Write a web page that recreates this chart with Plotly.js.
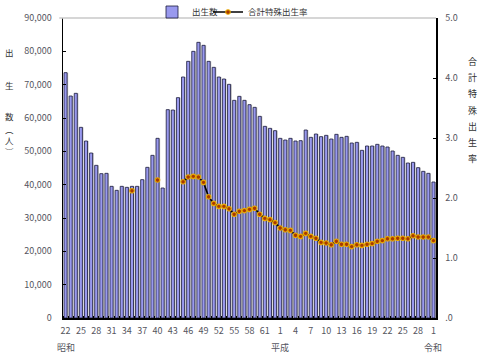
<!DOCTYPE html>
<html>
<head>
<meta charset="utf-8">
<script src="https://cdn.plot.ly/plotly-3.0.1.min.js"></script>
<style>html,body{margin:0;padding:0;background:#fff;}#chart{width:480px;height:363px;}</style>
</head>
<body>
<div id="chart"></div>
<script>
// Years 1947 (昭和22) .. 2019 (令和1)
const years = [];
for (let y = 1947; y <= 2019; y++) years.push(y);

// 出生数（人）
const births = [
  73600, 66600, 67400, 57200, 53100, 49500, 45800, 43300, 43400, 39500,
  38300, 39500, 39200, 39500, 39500, 41500, 45200, 48800, 53900, 39000,
  62500, 62400, 66100, 72300, 77000, 80000, 82700, 81800, 77000, 75200,
  72300, 71700, 70100, 65300, 66500, 65300, 64000, 63200, 60500, 57500,
  56900, 56200, 53900, 53400, 53900, 53100, 53200, 56400, 54200, 55200,
  54400, 54800, 53700, 55100, 54200, 54500, 52500, 52700, 50300, 51600,
  51600, 52100, 51600, 51300, 50100, 48800, 48200, 46500, 46700, 45100,
  44000, 43400, 40800
];

// 合計特殊出生率
const tfr = [
  null, null, null, null, null, null, null, null, null, null,
  null, null, null, 2.12, null, null, null, null, 2.30, null,
  null, null, null, 2.27, 2.35, 2.36, 2.35, 2.26, 2.02, 1.91,
  1.86, 1.86, 1.82, 1.73, 1.78, 1.79, 1.81, 1.83, 1.73, 1.66,
  1.64, 1.59, 1.50, 1.47, 1.46, 1.38, 1.36, 1.41, 1.36, 1.33,
  1.26, 1.25, 1.22, 1.28, 1.23, 1.23, 1.19, 1.22, 1.21, 1.23,
  1.24, 1.28, 1.29, 1.32, 1.32, 1.33, 1.33, 1.32, 1.37, 1.35,
  1.35, 1.35, 1.29
];

// x tick labels (every 3 years)
const tickYears = [1947,1950,1953,1956,1959,1962,1965,1968,1971,1974,1977,1980,1983,1986,1989,1992,1995,1998,2001,2004,2007,2010,2013,2016,2019];
const tickLabels = ['22','25','28','31','34','37','40','43','46','49','52','55','58','61','1','4','7','10','13','16','19','22','25','28','1'];

const eraNames = ['昭和', '平成', '令和'];
const eraYears = [1947, 1989, 2019];

const yTitleLeft = ['出', '生', '数', '︵', '人', '︶'];
const yTitleRight = ['合', '計', '特', '殊', '出', '生', '率'];

const FONT = 'Noto Sans CJK JP, Liberation Sans, sans-serif';
const TXT = '#555560';

const traces = [
  {
    type: 'bar', x: years, y: births, name: 'shadow', showlegend: false, hoverinfo: 'skip',
    width: 0.6, offset: -0.3 + 0.22,
    marker: {color: '#c4c4c4', line: {width: 0}}
  },
  {
    type: 'bar', x: years, y: births, name: '出生数', legend: 'legend',
    width: 0.6, offset: -0.3,
    marker: {color: '#9999ee', line: {color: '#1a1a3a', width: 0.8}}
  },
  {
    type: 'scatter', mode: 'lines+markers', x: years, y: tfr, yaxis: 'y2', legend: 'legend2',
    name: '合計特殊出生率', connectgaps: false,
    line: {color: '#000000', width: 1.6},
    marker: {symbol: 'circle', size: 4.5, color: '#a83a00', line: {color: '#e8a800', width: 1.1}}
  }
];

const annotations = [];
eraNames.forEach((t, i) => {
  annotations.push({xref: 'x', yref: 'paper', x: eraYears[i], y: -0.097, yanchor: 'middle', xanchor: 'center',
    text: t, showarrow: false, font: {family: FONT, size: 9, color: TXT}});
});
const leftYs = [52, 85, 116, 129, 140, 151];
yTitleLeft.forEach((t, i) => {
  annotations.push({xref: 'paper', yref: 'paper', x: (10 - 63) / 373, y: (318 - leftYs[i]) / 300,
    xanchor: 'center', yanchor: 'middle', text: t, showarrow: false, font: {family: FONT, size: 8.5, color: '#333'}});
});
yTitleRight.forEach((t, i) => {
  annotations.push({xref: 'paper', yref: 'paper', x: (472 - 63) / 373, y: (318 - (62 + i * 16)) / 300,
    xanchor: 'center', yanchor: 'middle', text: t, showarrow: false, font: {family: FONT, size: 9, color: '#333'}});
});

const legendCommon = {orientation: 'h', yanchor: 'middle', y: 1 + (18 - 12) / 300, xanchor: 'left',
  font: {family: FONT, size: 8.5, color: '#333'}, bgcolor: 'rgba(0,0,0,0)', itemwidth: 30};

const layout = {
  width: 480, height: 363,
  margin: {l: 63, r: 44, t: 18, b: 45, pad: 0, autoexpand: false},
  paper_bgcolor: '#ffffff', plot_bgcolor: '#ffffff',
  barmode: 'overlay',
  font: {family: FONT, size: 9, color: TXT},
  showlegend: true,
  legend: Object.assign({}, legendCommon, {x: (192 - 40 - 63) / 373}),
  legend2: Object.assign({}, legendCommon, {x: (248 - 40 - 63) / 373}),
  xaxis: {
    range: [1946.5, 2019.5], tickmode: 'array', tickvals: tickYears, ticktext: tickLabels,
    showgrid: false, zeroline: false, showline: true, linecolor: '#000', linewidth: 1.5,
    ticks: '', tickfont: {family: FONT, size: 9, color: TXT}, ticklabelstandoff: 4,
    minor: {ticks: 'inside', tick0: 1946.5, dtick: 1, ticklen: 2, tickcolor: '#000', showgrid: false}
  },
  yaxis: {
    range: [0, 90000], dtick: 10000, tickformat: ',d', showgrid: false, zeroline: false,
    showline: true, linecolor: '#000', linewidth: 1.5, ticks: 'inside', ticklen: 3, tickcolor: '#000',
    tickfont: {family: FONT, size: 9, color: TXT}, ticklabelstandoff: 8
  },
  yaxis2: {
    overlaying: 'y', side: 'right', range: [0, 5], tickmode: 'array',
    tickvals: [0, 1, 2, 3, 4, 5], ticktext: ['.0', '1.0', '2.0', '3.0', '4.0', '5.0'],
    showgrid: false, zeroline: false, showline: true, linecolor: '#000', linewidth: 1.5,
    ticks: 'inside', ticklen: 3, tickcolor: '#000',
    tickfont: {family: FONT, size: 9, color: TXT}, ticklabelstandoff: 6
  },
  shapes: [
    {type: 'line', xref: 'paper', yref: 'paper', x0: -0.01, x1: 1, y0: 1, y1: 1, line: {color: '#c8c8c8', width: 1.5}}
  ],
  annotations: annotations
};

Plotly.newPlot('chart', traces, layout, {displayModeBar: false, staticPlot: true});
</script>
</body>
</html>
